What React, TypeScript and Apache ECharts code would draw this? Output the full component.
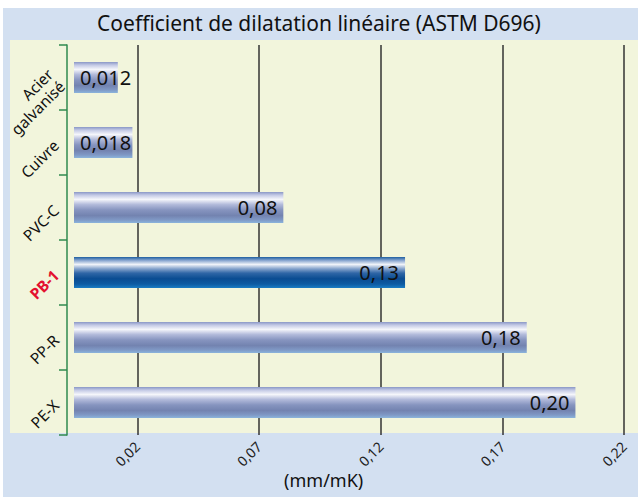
import React, { useEffect, useRef } from "react";
import * as echarts from "echarts";

const categories = ["Acier\ngalvanisé", "Cuivre", "PVC-C", "PB-1", "PP-R", "PE-X"];
const values = [0.012, 0.018, 0.08, 0.13, 0.18, 0.2];
const valueLabels = ["0,012", "0,018", "0,08", "0,13", "0,18", "0,20"];
const tickValues = [0.02, 0.07, 0.12, 0.17, 0.22];
const tickLabels = ["0,02", "0,07", "0,12", "0,17", "0,22"];
const highlighted = "PB-1";
const axisMin = -0.006;
const axisMax = 0.225;

const FONT = "Noto Sans";

function barGradient(isHighlight: boolean) {
  const stops = isHighlight
    ? [
        [0, "#1f5fa0"],
        [0.1, "#7f9fcc"],
        [0.24, "#f0f3f9"],
        [0.38, "#86a3cc"],
        [0.52, "#2f66a6"],
        [0.7, "#0a4c92"],
        [0.87, "#0d5aa2"],
        [1, "#1a7cc4"],
      ]
    : [
        [0, "#8a97c6"],
        [0.1, "#c3c9e5"],
        [0.24, "#f5f6fb"],
        [0.4, "#b3bbdb"],
        [0.58, "#8694bf"],
        [0.76, "#7383b0"],
        [0.9, "#7f98c5"],
        [1, "#8bb4dc"],
      ];
  return new echarts.graphic.LinearGradient(
    0,
    0,
    0,
    1,
    stops.map(([offset, color]) => ({ offset: offset as number, color: color as string }))
  );
}

export default function App() {
  const ref = useRef<HTMLDivElement>(null);
  useEffect(() => {
    if (!ref.current) return;
    const chart = echarts.init(ref.current, null, { renderer: "svg" });
    chart.setOption({
      animation: false,
      backgroundColor: "#ffffff",
      textStyle: { fontFamily: FONT },
      title: {
        text: "Coefficient de dilatation linéaire (ASTM D696)",
        left: "center",
        top: 12,
        padding: [0, 0, 0, 8],
        textStyle: { fontSize: 21, fontWeight: "normal", color: "#111", fontFamily: FONT },
      },
      graphic: [
        {
          type: "rect",
          silent: true,
          z: -100,
          shape: { x: 3, y: 8, width: 635, height: 489 },
          style: { fill: "#d3e0f1" },
        },
        {
          type: "rect",
          silent: true,
          z: -99,
          shape: { x: 10, y: 40, width: 628, height: 393 },
          style: { fill: "#f2f5dc" },
        },
      ],
      grid: { left: 74, right: 1.7, top: 45, bottom: 62, outerBoundsMode: "none", containLabel: false },
      xAxis: {
        type: "value",
        min: axisMin,
        max: axisMax,
        startValue: axisMin,
        axisLine: { show: false },
        axisTick: { show: false, customValues: tickValues },
        splitLine: { show: true, lineStyle: { color: "#333", width: 1.5 } },
        axisLabel: {
          customValues: tickValues,
          rotate: 45,
          margin: 9,
          fontSize: 14,
          color: "#222",
          fontFamily: FONT,
          formatter: (v: number) => {
            const i = tickValues.findIndex((t) => Math.abs(t - v) < 1e-9);
            return i >= 0 ? tickLabels[i] : "";
          },
        },
        name: "(mm/mK)",
        nameLocation: "middle",
        nameGap: 36,
        nameMoveOverlap: false,
        nameTextStyle: { fontSize: 18, color: "#111", fontFamily: FONT, padding: [0, 63, 0, 0] },
      },
      yAxis: {
        type: "category",
        data: categories,
        inverse: true,
        offset: 7,
        axisLine: { onZero: false, lineStyle: { color: "#2f8a4f", width: 1.5 } },
        axisTick: { show: true, length: 8, lineStyle: { color: "#2f8a4f", width: 1.5 } },
        axisLabel: {
          rotate: 45,
          margin: 11,
          fontSize: 15.5,
          color: "#111",
          fontFamily: FONT,
          lineHeight: 17,
          formatter: (v: string) => (v === highlighted ? "{hl|" + v + "}" : v),
          rich: { hl: { color: "#e3102f", fontWeight: "bold", fontSize: 15.5, fontFamily: FONT } },
        },
      },
      series: [
        {
          type: "bar",
          barWidth: 31,
          data: values.map((v, i) => ({
            value: v,
            itemStyle: { color: barGradient(categories[i] === highlighted) },
            label: { position: v < 0.05 ? "insideLeft" : "insideRight" },
          })),
          label: {
            show: true,
            formatter: (p: any) => valueLabels[p.dataIndex],
            fontSize: 20,
            color: "#111",
            fontFamily: FONT,
            distance: 6,
          },
        },
      ],
    });
    return () => chart.dispose();
  }, []);
  return (
    <div
      ref={ref}
      style={{ position: "absolute", left: 0, top: 0, width: 638, height: 497 }}
    />
  );
}
